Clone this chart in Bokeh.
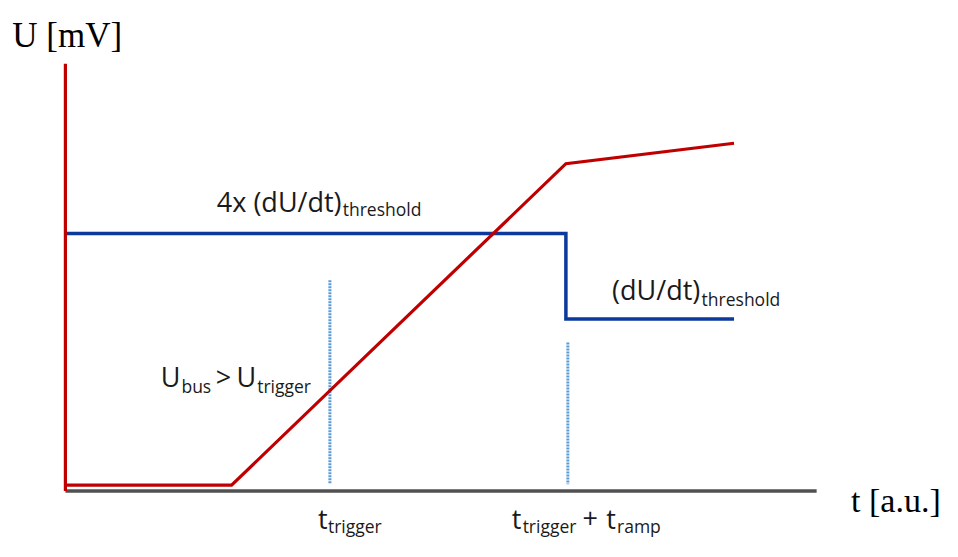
from bokeh.plotting import figure
from bokeh.models import Range1d, Label
from bokeh.embed import file_html
from bokeh.resources import INLINE

# ---- data (t in a.u., U in mV-like arbitrary units) ----
axis_t = [0, 764]
axis_U = [0, 0]
u_axis_t = [0, 0]
u_axis_U = [0, 440]
red_t = [0, 169, 509, 680]
red_U = [6, 6, 337, 358]
blue_t = [0, 509, 509, 680]
blue_U = [265, 265, 177, 177]
trig_t = [269, 269]
trig_U = [217, 7]
ramp_t = [511, 511]
ramp_U = [153, 7]

W, H = 942, 541
p = figure(width=W, height=H, output_backend="svg", toolbar_location=None,
           x_range=Range1d(-66, 892), y_range=Range1d(-52, 505),
           min_border=0)
p.xaxis.visible = False
p.yaxis.visible = False
p.grid.visible = False
p.outline_line_color = None
p.background_fill_color = "white"
p.border_fill_color = "white"

RED = "#C00000"
BLUE = "#0B3A9C"
LBLUE = "#5B9BD5"
GRAY = "#505050"

p.line(axis_t, axis_U, line_color=GRAY, line_width=3.5)
p.line(trig_t, trig_U, line_color=LBLUE, line_width=3, line_dash="2 1")
p.line(ramp_t, ramp_U, line_color=LBLUE, line_width=3, line_dash="2 1")
p.line(blue_t, blue_U, line_color=BLUE, line_width=3.5, line_join="miter")
p.line(red_t, red_U, line_color=RED, line_width=3.2, line_join="miter")
p.line(u_axis_t, u_axis_U, line_color=RED, line_width=3.2)

SANS = "Open Sans"
SERIF = "Liberation Serif"
MAIN = "27px"
SUB = "17.5px"
TXT = "#1a1a1a"

def lab(x, y, text, size, font=SANS, color=TXT):
    p.add_layout(Label(x=x, y=y, text=text, text_font=font, text_font_size=size,
                       text_color=color, text_baseline="alphabetic", text_align="left"))

# axis titles
lab(-54, 469, "U [mV]", "35px", SERIF, "black")
lab(799, -10, "t [a.u.]", "34px", SERIF, "black")

# 4x (dU/dt)_threshold
lab(154, 298, "4x (dU/dt)", MAIN)
lab(282, 290, "threshold", SUB)

# (dU/dt)_threshold
lab(556, 207, "(dU/dt)", MAIN)
lab(647, 198, "threshold", SUB)

# U_bus > U_trigger
lab(97, 118, "U", MAIN)
lab(118, 108, "bus", SUB)
lab(153, 118, ">", MAIN)
lab(174, 118, "U", MAIN)
lab(195, 108, "trigger", SUB)

# t_trigger
lab(257, -28, "t", MAIN)
lab(267, -36, "trigger", SUB)

# t_trigger + t_ramp
lab(454, -28, "t", MAIN)
lab(465, -36, "trigger", SUB)
lab(526, -28, "+", MAIN)
lab(550, -28, "t", MAIN)
lab(561, -36, "ramp", SUB)

open("out.html", "w").write(file_html(p, INLINE))
